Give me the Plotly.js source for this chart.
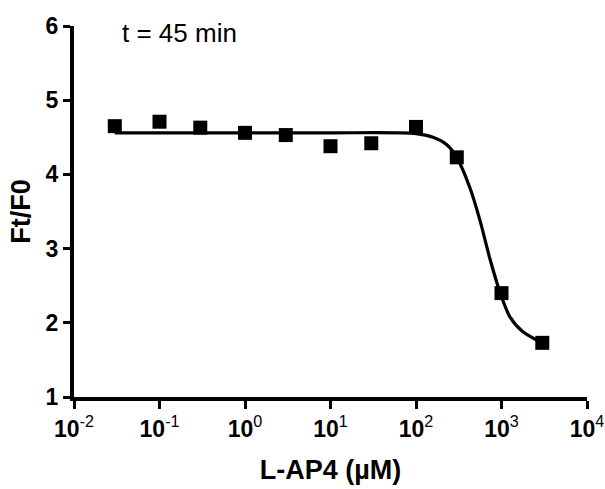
<!DOCTYPE html>
<html>
<head>
<meta charset="utf-8">
<script src="https://cdn.plot.ly/plotly-3.0.1.min.js"></script>
<style>html,body{margin:0;padding:0;background:#fff;}#chart{width:605px;height:489px;}</style>
</head>
<body>
<div id="chart"></div>
<script>
// Measured data points (L-AP4 concentration in µM vs Ft/F0)
const concentrations = [0.03, 0.1, 0.3, 1, 3, 10, 30, 100, 300, 1000, 3000];
const ratio = [4.65, 4.71, 4.63, 4.56, 4.53, 4.38, 4.42, 4.64, 4.23, 2.40, 1.73];

// Fitted curve
const fitX = [0.03, 1, 10, 100, 158, 229, 300, 427, 560, 733, 955, 1253, 1780, 3000];
const fitY = [4.56, 4.56, 4.56, 4.55, 4.50, 4.40, 4.23, 3.82, 3.38, 2.86, 2.42, 2.08, 1.88, 1.73];

// Tick labels
const xTickVals = [0.01, 0.1, 1, 10, 100, 1000, 10000];
const xTickText = ['<b>10</b><sup>-2</sup>', '<b>10</b><sup>-1</sup>', '<b>10</b><sup>0</sup>', '<b>10</b><sup>1</sup>', '<b>10</b><sup>2</sup>', '<b>10</b><sup>3</sup>', '<b>10</b><sup>4</sup>'];
const yTickVals = [1, 2, 3, 4, 5, 6];
const yTickText = ['<b>1</b>', '<b>2</b>', '<b>3</b>', '<b>4</b>', '<b>5</b>', '<b>6</b>'];

const font = 'Liberation Sans, Arial, sans-serif';

const traces = [
  {
    x: fitX, y: fitY, type: 'scatter', mode: 'lines',
    line: {color: '#000', width: 3.2, shape: 'spline', smoothing: 0.8},
    hoverinfo: 'skip', showlegend: false
  },
  {
    x: concentrations, y: ratio, type: 'scatter', mode: 'markers',
    marker: {symbol: 'square', size: 14, color: '#000'},
    showlegend: false
  }
];

const layout = {
  width: 605, height: 489,
  margin: {l: 74, r: 18, t: 26, b: 92},
  paper_bgcolor: '#fff', plot_bgcolor: '#fff',
  font: {family: font, color: '#000'},
  xaxis: {
    type: 'log', range: [-2, 4],
    tickvals: xTickVals, ticktext: xTickText,
    ticks: 'outside', ticklen: 8, tickwidth: 3, tickcolor: '#000',
    showline: true, linewidth: 4, linecolor: '#000',
    showgrid: false, zeroline: false,
    tickfont: {family: font, size: 23, color: '#000'},
    title: {text: '<b>L-AP4 (µM)</b>', font: {family: font, size: 27, color: '#000'}, standoff: 21}
  },
  yaxis: {
    range: [1, 6],
    tickvals: yTickVals, ticktext: yTickText,
    ticks: 'outside', ticklen: 7, tickwidth: 3, tickcolor: '#000',
    showline: true, linewidth: 4, linecolor: '#000',
    showgrid: false, zeroline: false,
    tickfont: {family: font, size: 23, color: '#000'},
    title: {text: '<b>Ft/F0</b>', font: {family: font, size: 27, color: '#000'}, standoff: 8}
  },
  annotations: [{
    text: 't = 45 min', xref: 'paper', yref: 'paper',
    x: 0.206, y: 0.982, xanchor: 'center', yanchor: 'middle',
    showarrow: false, font: {family: font, size: 26, color: '#000'}
  }]
};

Plotly.newPlot('chart', traces, layout, {displayModeBar: false, staticPlot: true});
</script>
</body>
</html>
